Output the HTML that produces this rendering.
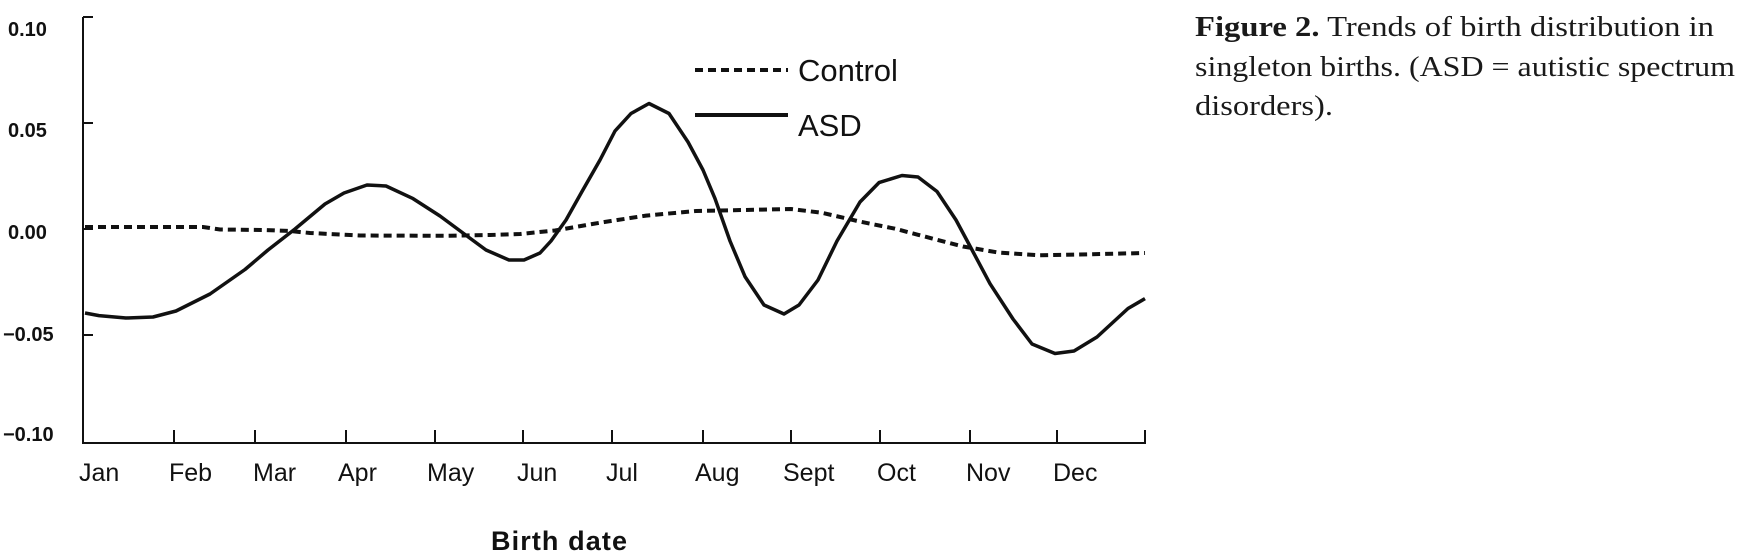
<!DOCTYPE html>
<html><head><meta charset="utf-8"><style>
html,body{margin:0;padding:0;background:#fff;}
svg{display:block;}
</style></head><body>
<svg width="1750" height="556" viewBox="0 0 1750 556" xmlns="http://www.w3.org/2000/svg">
<g stroke="#111" stroke-width="2" fill="none">
<line x1="83" y1="17" x2="83" y2="443"/>
<line x1="82" y1="443" x2="1146" y2="443"/>
<line x1="83" y1="17" x2="93" y2="17"/>
<line x1="83" y1="123" x2="93" y2="123"/>
<line x1="83" y1="229" x2="93" y2="229"/>
<line x1="83" y1="335" x2="93" y2="335"/>
<line x1="174" y1="430" x2="174" y2="443"/>
<line x1="255" y1="430" x2="255" y2="443"/>
<line x1="346" y1="430" x2="346" y2="443"/>
<line x1="435" y1="430" x2="435" y2="443"/>
<line x1="523" y1="430" x2="523" y2="443"/>
<line x1="612" y1="430" x2="612" y2="443"/>
<line x1="703" y1="430" x2="703" y2="443"/>
<line x1="791" y1="430" x2="791" y2="443"/>
<line x1="880" y1="430" x2="880" y2="443"/>
<line x1="970" y1="430" x2="970" y2="443"/>
<line x1="1057" y1="430" x2="1057" y2="443"/>
<line x1="1145" y1="430" x2="1145" y2="443"/>
</g>
<g font-family="Liberation Sans, sans-serif" font-weight="bold" font-size="20" fill="#111">
<text x="8" y="36">0.10</text>
<text x="8" y="137">0.05</text>
<text x="8" y="239">0.00</text>
<text x="3" y="341">−0.05</text>
<text x="3" y="441">−0.10</text>
</g>
<g font-family="Liberation Sans, sans-serif" font-size="25" fill="#111">
<text x="79" y="481">Jan</text>
<text x="169" y="481">Feb</text>
<text x="253" y="481">Mar</text>
<text x="338" y="481">Apr</text>
<text x="427" y="481">May</text>
<text x="517" y="481">Jun</text>
<text x="606" y="481">Jul</text>
<text x="695" y="481">Aug</text>
<text x="783" y="481">Sept</text>
<text x="877" y="481">Oct</text>
<text x="966" y="481">Nov</text>
<text x="1053" y="481">Dec</text>
</g>
<text x="491" y="550" font-family="Liberation Sans, sans-serif" font-weight="bold" font-size="27" fill="#111" textLength="136">Birth date</text>
<line x1="695" y1="70" x2="788" y2="70" stroke="#111" stroke-width="4" stroke-dasharray="8,5"/>
<line x1="695" y1="115" x2="788" y2="115" stroke="#111" stroke-width="4"/>
<g font-family="Liberation Sans, sans-serif" font-size="31" fill="#111">
<text x="798" y="81">Control</text>
<text x="798" y="136">ASD</text>
</g>
<polyline fill="none" stroke="#111" stroke-width="4" stroke-dasharray="8,5" points="85,227 203,227 220,229.5 264,230 290,231 310,233 360,235.5 448,235.8 490,235 520,234 555,230.5 600,222.7 646,215.6 696,211 791,209 822,212.8 860,221.6 895,228.7 918,234.8 963,246.5 998,252.5 1040,255.3 1075,254.6 1145,253"/>
<polyline fill="none" stroke="#111" stroke-width="3.5" stroke-linejoin="round" points="85,313 99,315.6 126,318 153,317 176,311 210,294 245,269.5 268,250 295,229 325,204 344,193 367,185 386,186 413,198.6 440,216 467,236 486,250 509,260 524,260 540,253 551,241 566,220 582,191.5 600,160 615,131 631,113.5 649,103.5 669,113.5 688,142 703,170 715,198.6 730,241 745,276.6 764,305 784,314 799,305 818,280 837,241 860,202 879,182.6 902,175.5 918,177 937,191.5 956,220 971,248 990,283.7 1013,319 1032,344 1055,353.5 1074,351 1097,337 1128,308.5 1145,298.6"/>
<g font-family="Liberation Serif, serif" font-size="28" fill="#1a1a1a">
<text x="1195" y="36" textLength="519" lengthAdjust="spacingAndGlyphs"><tspan font-weight="bold">Figure 2.</tspan>  Trends of birth distribution in</text>
<text x="1195" y="76" textLength="540" lengthAdjust="spacingAndGlyphs">singleton births. (ASD = autistic spectrum</text>
<text x="1195" y="115" textLength="138" lengthAdjust="spacingAndGlyphs">disorders).</text>
</g>
</svg>
</body></html>
